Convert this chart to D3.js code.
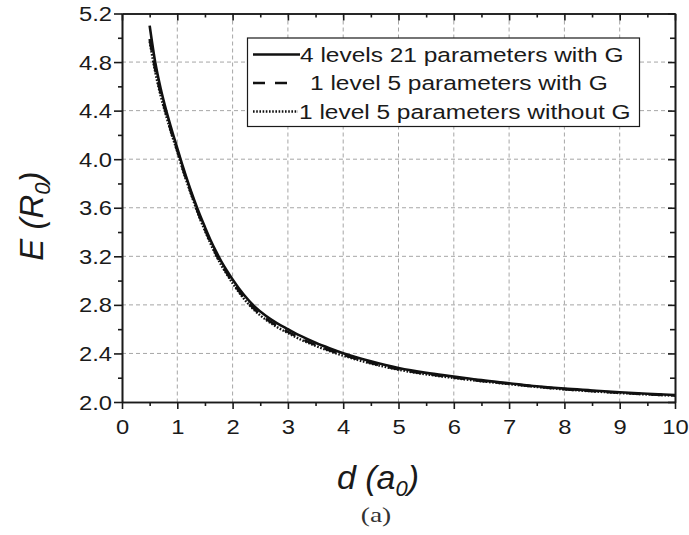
<!DOCTYPE html>
<html>
<head>
<meta charset="utf-8">
<script src="https://cdn.jsdelivr.net/npm/d3@7"></script>
<style>
  html, body { margin: 0; padding: 0; background: #fff; }
  svg { display: block; font-family: "Liberation Sans", Arial, Helvetica, sans-serif; }
</style>
</head>
<body>
<svg id="chart" width="689" height="535"></svg>
<script>
// Interatomic distance d (a0)
const distances = [0.5,0.6,0.7,0.8,0.9,1.0,1.1,1.2,1.3,1.4,1.5,1.6,1.7,1.8,1.9,2.0,2.2,2.4,2.6,2.8,3.0,3.25,3.5,3.75,4.0,4.5,5.0,5.5,6.0,6.5,7.0,7.5,8.0,8.5,9.0,9.5,10.0];

// Energy E (R0) for each model
const energy4L21 = [5.10,4.80,4.58,4.40,4.24,4.09,3.94,3.80,3.67,3.55,3.44,3.335,3.24,3.155,3.08,3.01,2.885,2.785,2.71,2.65,2.60,2.54,2.488,2.443,2.402,2.335,2.28,2.24,2.21,2.18,2.155,2.13,2.11,2.095,2.08,2.068,2.058];
const energy1L5G = [4.99,4.74,4.54,4.37,4.21,4.07,3.92,3.785,3.655,3.53,3.42,3.315,3.218,3.133,3.058,2.988,2.863,2.763,2.688,2.628,2.578,2.52,2.47,2.427,2.389,2.322,2.27,2.232,2.202,2.174,2.15,2.126,2.106,2.09,2.076,2.064,2.054];
const energy1L5noG = [4.97,4.72,4.52,4.355,4.20,4.06,3.91,3.775,3.645,3.52,3.41,3.305,3.208,3.123,3.048,2.978,2.853,2.753,2.678,2.618,2.568,2.51,2.462,2.42,2.382,2.317,2.266,2.228,2.198,2.171,2.147,2.124,2.104,2.088,2.074,2.062,2.052];

const seriesNames = ["4 levels 21 parameters with G", "1 level 5 parameters with G", "1 level 5 parameters without G"];

// Axis ticks
const xMajorTicks = [0,1,2,3,4,5,6,7,8,9,10];
const xMinorTicks = [0.5,1.5,2.5,3.5,4.5,5.5,6.5,7.5,8.5,9.5];
const yMajorTicks = [2.0,2.4,2.8,3.2,3.6,4.0,4.4,4.8,5.2];
const yMinorTicks = [2.2,2.6,3.0,3.4,3.8,4.2,4.6,5.0];
const xGridTicks = [1,2,3,4,5,6,7,8,9];
const yGridTicks = [2.4,2.8,3.2,3.6,4.0,4.4,4.8];

const svg = d3.select("#chart");
const plot = { left: 122, right: 675, top: 13.5, bottom: 402 };
const ink = "#1a1a1a";
const labelSize = 19.5, labelStretch = 1.22;

const x = d3.scaleLinear().domain([0, 10]).range([plot.left, plot.right]);
const y = d3.scaleLinear().domain([2.0, 5.2]).range([plot.bottom, plot.top]);

// Dashed grid
const grid = svg.append("g").attr("stroke", "#a6a6a6").attr("stroke-width", 1).attr("stroke-dasharray", "4,3");
grid.selectAll("line.gx").data(xGridTicks).join("line")
  .attr("x1", d => x(d)).attr("x2", d => x(d))
  .attr("y1", plot.top).attr("y2", plot.bottom);
grid.selectAll("line.gy").data(yGridTicks).join("line")
  .attr("x1", plot.left).attr("x2", plot.right)
  .attr("y1", d => y(d)).attr("y2", d => y(d));

// Curves
const styles = [
  { data: energy4L21, dash: null, width: 2.6 },
  { data: energy1L5G, dash: "12,10", width: 2.6 },
  { data: energy1L5noG, dash: "1.6,1.6", width: 2.4 }
];
const line = d3.line().x(d => x(d[0])).y(d => y(d[1])).curve(d3.curveMonotoneX);
const curves = svg.append("g").attr("fill", "none").attr("stroke", "#111");
styles.forEach(s => {
  curves.append("path")
    .datum(distances.map((d, i) => [d, s.data[i]]))
    .attr("d", line)
    .attr("stroke-width", s.width)
    .attr("stroke-dasharray", s.dash);
});

// Axes
function styleAxis(g) {
  g.select(".domain").attr("stroke", ink).attr("stroke-width", 1.6);
  g.selectAll(".tick line").attr("stroke", ink).attr("stroke-width", 1.6);
  g.selectAll(".tick text").attr("fill", ink).attr("font-size", labelSize)
    .attr("font-family", "'Liberation Sans', Arial, sans-serif");
}
// bottom
svg.append("g").attr("transform", `translate(0,${plot.bottom})`)
  .call(d3.axisBottom(x).tickValues(xMajorTicks).tickSize(7).tickSizeOuter(0).tickFormat(d3.format("d")))
  .call(styleAxis)
  .call(g => g.selectAll(".tick text").attr("y", 32).attr("dy", "0")
    .attr("transform", `scale(${labelStretch},1)`));
svg.append("g").attr("transform", `translate(0,${plot.bottom})`)
  .call(d3.axisBottom(x).tickValues(xMinorTicks).tickSize(4).tickSizeOuter(0).tickFormat(""))
  .call(styleAxis);
// left
svg.append("g").attr("transform", `translate(${plot.left},0)`)
  .call(d3.axisLeft(y).tickValues(yMajorTicks).tickSize(8).tickSizeOuter(0).tickFormat(d3.format(".1f")))
  .call(styleAxis)
  .call(g => g.selectAll(".tick text").attr("x", -10 / labelStretch).attr("dy", "0.36em")
    .attr("transform", `scale(${labelStretch},1)`));
svg.append("g").attr("transform", `translate(${plot.left},0)`)
  .call(d3.axisLeft(y).tickValues(yMinorTicks).tickSize(4).tickSizeOuter(0).tickFormat(""))
  .call(styleAxis);
// top (ticks inward)
svg.append("g").attr("transform", `translate(0,${plot.top})`)
  .call(d3.axisTop(x).tickValues(xMajorTicks).tickSize(-7).tickSizeOuter(0).tickFormat(""))
  .call(styleAxis);
svg.append("g").attr("transform", `translate(0,${plot.top})`)
  .call(d3.axisTop(x).tickValues(xMinorTicks).tickSize(-4).tickSizeOuter(0).tickFormat(""))
  .call(styleAxis);
// right (ticks inward)
svg.append("g").attr("transform", `translate(${plot.right},0)`)
  .call(d3.axisRight(y).tickValues(yMajorTicks).tickSize(-7).tickSizeOuter(0).tickFormat(""))
  .call(styleAxis);
svg.append("g").attr("transform", `translate(${plot.right},0)`)
  .call(d3.axisRight(y).tickValues(yMinorTicks).tickSize(-5).tickSizeOuter(0).tickFormat(""))
  .call(styleAxis);

// Legend
const legendStretch = 1.255;
const legend = svg.append("g");
legend.append("rect")
  .attr("x", 247.5).attr("y", 38).attr("width", 392).attr("height", 88.5)
  .attr("fill", "#fff").attr("stroke", ink).attr("stroke-width", 1.2);
const rowY = [54.5, 83, 111.5];
const textX = [300, 310, 299];
const sampleEnd = [300, 293, 298];
styles.forEach((s, i) => {
  legend.append("line")
    .attr("x1", 253).attr("x2", sampleEnd[i])
    .attr("y1", rowY[i]).attr("y2", rowY[i])
    .attr("stroke", "#111").attr("stroke-width", s.width)
    .attr("stroke-dasharray", s.dash);
  legend.append("text")
    .attr("transform", `translate(${textX[i]},${rowY[i] + 7}) scale(${legendStretch},1)`)
    .attr("font-size", labelSize).attr("fill", ink)
    .text(seriesNames[i]);
});

// Axis titles
const xTitle = svg.append("text")
  .attr("transform", "translate(378,489)")
  .attr("text-anchor", "middle").attr("font-size", 34).attr("font-style", "italic").attr("fill", ink);
xTitle.append("tspan").text("d (a");
xTitle.append("tspan").attr("font-size", 22).attr("dy", 7).text("0");
xTitle.append("tspan").attr("dy", -7).text(")");

const yTitle = svg.append("text")
  .attr("transform", "translate(43,216) rotate(-90)")
  .attr("text-anchor", "middle").attr("font-size", 33).attr("font-style", "italic").attr("fill", ink);
yTitle.append("tspan").text("E (R");
yTitle.append("tspan").attr("font-size", 22).attr("dy", 7).text("0");
yTitle.append("tspan").attr("dy", -7).text(")");

// Panel caption
svg.append("text")
  .attr("transform", "translate(376,522) scale(1.25,1)")
  .attr("text-anchor", "middle").attr("font-size", 22)
  .attr("font-family", "'Liberation Serif', 'DejaVu Serif', serif").attr("fill", "#333")
  .text("(a)");
</script>
</body>
</html>
